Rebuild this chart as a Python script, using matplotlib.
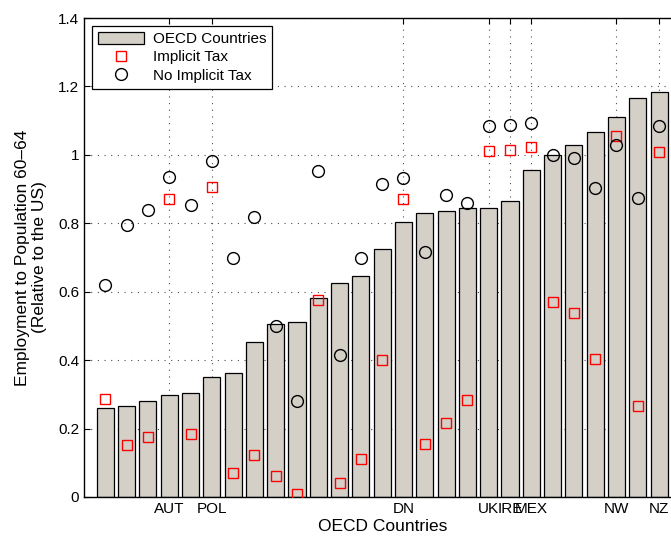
import numpy as np
import matplotlib.pyplot as plt

plt.rcParams['font.family'] = ['Liberation Sans', 'DejaVu Sans']

# bar heights, sorted as in the figure (27 OECD countries)
employment = [0.261, 0.267, 0.282, 0.299, 0.304, 0.350, 0.362, 0.453, 0.505,
              0.511, 0.581, 0.625, 0.645, 0.725, 0.805, 0.829, 0.835, 0.845,
              0.845, 0.866, 0.955, 1.000, 1.029, 1.067, 1.110, 1.166, 1.183]
implicit_tax = [0.286, 0.151, 0.175, 0.871, 0.183, 0.905, 0.070, 0.123, 0.061,
                0.010, 0.576, 0.042, 0.110, 0.401, 0.870, 0.156, 0.217, 0.283,
                1.011, 1.013, 1.022, 0.570, 0.537, 0.403, 1.055, 0.267, 1.008]
no_implicit_tax = [0.621, 0.795, 0.838, 0.935, 0.852, 0.981, 0.700, 0.818, 0.500,
                   0.282, 0.954, 0.415, 0.698, 0.915, 0.933, 0.717, 0.884, 0.859,
                   1.084, 1.086, 1.093, 1.000, 0.991, 0.903, 1.030, 0.875, 1.083]

tick_pos = [4, 6, 15, 19, 20, 21, 25, 27]
tick_labels = ['AUT', 'POL', 'DN', 'UK', 'IRE', 'MEX', 'NW', 'NZ']

x = np.arange(1, len(employment) + 1)

fig = plt.figure(figsize=(6.71, 5.38), dpi=100)
ax = fig.add_axes([84 / 671, 41 / 538, 596.4 / 671, 479 / 538])

bars = ax.bar(x, employment, width=0.8, color='#d4d0c8', edgecolor='black',
              linewidth=0.9, label='OECD Countries', zorder=2)
sq, = ax.plot(x, implicit_tax, 's', mfc='none', mec='red', ms=7, mew=1,
              label='Implicit Tax', zorder=3)
ci, = ax.plot(x, no_implicit_tax, 'o', mfc='none', mec='black', ms=8.5, mew=1,
              label='No Implicit Tax', zorder=3)

ax.set_xlim(0, 28)
ax.set_ylim(0, 1.4)
ax.set_yticks(np.arange(0, 1.41, 0.2))
ax.set_yticklabels(['0', '0.2', '0.4', '0.6', '0.8', '1', '1.2', '1.4'])
ax.set_xticks(tick_pos)
ax.set_xticklabels(tick_labels)
ax.tick_params(direction='in', top=True, right=True, labelsize=11, length=4)
ax.grid(True, linestyle=(0, (1, 5)), color='0.3', linewidth=0.8, zorder=0)
ax.set_axisbelow(True)

ax.set_xlabel('OECD Countries', fontsize=12.5, labelpad=2)
ax.set_ylabel('Employment to Population 60\u201364\n(Relative to the US)',
              fontsize=12.5, labelpad=8)

leg = ax.legend([bars, sq, ci], ['OECD Countries', 'Implicit Tax', 'No Implicit Tax'],
                loc='upper left', fontsize=11, fancybox=False, framealpha=1,
                edgecolor='black', borderaxespad=0.5, handlelength=3.0,
                handleheight=0.85, borderpad=0.4, labelspacing=0.25,
                handletextpad=0.6)
leg.get_frame().set_linewidth(0.9)

for s in ax.spines.values():
    s.set_linewidth(1)

fig.savefig('out.png', dpi=100)
